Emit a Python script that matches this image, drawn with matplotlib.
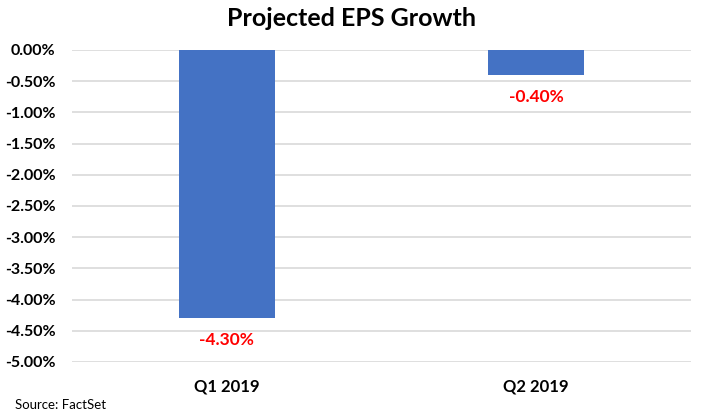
import numpy as np
import matplotlib
matplotlib.use("Agg")
import matplotlib.pyplot as plt

# Daten
kategorien = ["Q1 2019", "Q2 2019"]
wachstum   = [-4.30, -0.40]          # Prozent
y_ticks    = [0.0, -0.5, -1.0, -1.5, -2.0, -2.5, -3.0, -3.5, -4.0, -4.5, -5.0]

plt.rcParams.update({"font.family": ["Lato", "DejaVu Sans"]})

fig = plt.figure(figsize=(7.03, 4.18), dpi=100)
ax = fig.add_axes([0.1024, 0.134, 0.8806, 0.7464])

x = np.arange(len(kategorien))
ax.bar(x, wachstum, width=0.31, color="#4472C4", zorder=3)

for xi, v in zip(x, wachstum):
    ax.annotate(f"{v:.2f}%", (xi, v), xytext=(0, -10), textcoords="offset points",
                ha="center", va="top", color="#FF0000", fontsize=12.5,
                fontweight="bold")

ax.set_xlim(-0.5, 1.5)
ax.set_ylim(-5.0, 0.0)
ax.set_yticks(y_ticks)
ax.set_yticklabels([f"{t:.2f}%" for t in y_ticks], fontsize=11.5, fontweight="bold")
ax.set_xticks(x)
ax.set_xticklabels(kategorien, fontsize=12, fontweight="bold")
ax.tick_params(length=0)
ax.tick_params(axis="x", pad=12)
ax.tick_params(axis="y", pad=12)
ax.yaxis.grid(True, color="#D9D9D9", lw=1.2, zorder=0)
for s in ax.spines.values():
    s.set_visible(False)

fig.text(0.5, 0.955, "Projected EPS Growth", ha="center", va="center",
         fontsize=18, fontweight="bold")
fig.text(0.021, 0.03, "Source: FactSet", ha="left", va="center", fontsize=9.5)

fig.savefig("out.png", dpi=100)
